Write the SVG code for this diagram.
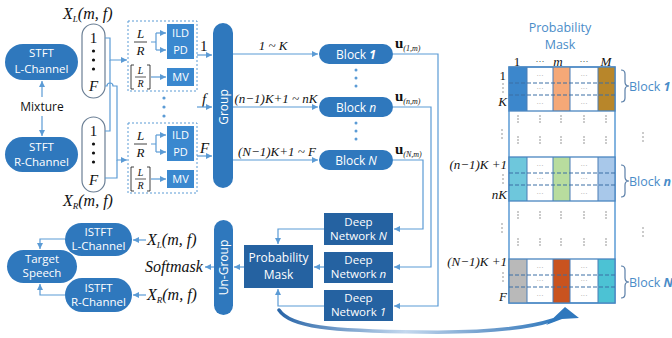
<svg xmlns="http://www.w3.org/2000/svg" width="672" height="338" viewBox="0 0 672 338">
<defs>
<style>
.pill{fill:#2f78bd}
.dk{fill:#2562a1}
.lt{fill:#3a88cf}
.wt{fill:#fff;font-family:'Open Sans','Liberation Sans',sans-serif;font-size:11.5px;text-anchor:middle}
.ws{fill:#fff;font-family:'Open Sans','Liberation Sans',sans-serif;font-size:11px;text-anchor:middle}
.ln{fill:none;stroke:#5b9bd5;stroke-width:1.2}
.m{font-family:'Liberation Serif',serif;font-style:italic;fill:#111}
.mu{font-family:'Liberation Serif',serif;fill:#111}
.bk{font-family:'Open Sans','Liberation Sans',sans-serif;font-size:12px;fill:#111;text-anchor:middle}
.bl{font-family:'Open Sans','Liberation Sans',sans-serif;font-size:12.5px;fill:#4a8cc8}
.dash{fill:none;stroke:#5b9bd5;stroke-width:1;stroke-dasharray:2 2}
.dot{fill:#5b9bd5}
.gd{fill:#888}
.hd{stroke:#3a6ea5;stroke-width:1;stroke-dasharray:4 2}
.cl{stroke:#4a7db5;stroke-width:1}
.bt{font-family:'Liberation Serif',serif;font-size:7px;fill:#888;text-anchor:middle}
.br{fill:none;stroke:#5a7fa8;stroke-width:1.2}
.s10{font-size:10px}.s12{font-size:12px}.s13{font-size:13px}.s15{font-size:15px}.s16{font-size:16px}
.sub{font-size:9px}
</style>
<marker id="ar" markerWidth="6" markerHeight="6" refX="6" refY="3" orient="auto" markerUnits="userSpaceOnUse"><path d="M0,0 L6,3 L0,6 z" fill="#5b9bd5"/></marker>
<linearGradient id="cg" x1="279" y1="0" x2="560" y2="0" gradientUnits="userSpaceOnUse">
<stop offset="0" stop-color="#2a66a8"/><stop offset="0.45" stop-color="#c4d8ee"/><stop offset="0.75" stop-color="#6d9ccc"/><stop offset="1" stop-color="#2f78bd"/>
</linearGradient>
</defs>

<g id="stft-l"><rect class="pill" x="5" y="44" width="73" height="36" rx="18"/><text class="wt" x="41.5" y="57">STFT</text><text class="wt" x="41.5" y="72.5">L-Channel</text></g>
<g id="stft-r"><rect class="pill" x="5" y="137" width="73" height="35" rx="17.5"/><text class="wt" x="41.5" y="150.5">STFT</text><text class="wt" x="41.5" y="166">R-Channel</text></g>
<g id="mixture"><text class="bk" x="42" y="111">Mixture</text></g>

<g id="xl">
<text class="m s16" x="63" y="19">X<tspan class="sub" dy="3">L</tspan><tspan dy="-3">(m, f)</tspan></text>
<rect x="82" y="24" width="23" height="74" rx="11.5" fill="#fff" stroke="#6b7f95" stroke-width="1.2"/>
<text class="mu s15" x="93.5" y="43" text-anchor="middle">1</text>
<circle cx="93.5" cy="51" r="1.6" fill="#111"/><circle cx="93.5" cy="60" r="1.6" fill="#111"/><circle cx="93.5" cy="69" r="1.6" fill="#111"/>
<text class="m s15" x="93.5" y="91" text-anchor="middle">F</text>
</g>
<g id="xr">
<rect x="82" y="117" width="23" height="75" rx="11.5" fill="#fff" stroke="#6b7f95" stroke-width="1.2"/>
<text class="mu s15" x="93.5" y="136" text-anchor="middle">1</text>
<circle cx="93.5" cy="144" r="1.6" fill="#111"/><circle cx="93.5" cy="153" r="1.6" fill="#111"/><circle cx="93.5" cy="162" r="1.6" fill="#111"/>
<text class="m s15" x="93.5" y="185" text-anchor="middle">F</text>
<text class="m s16" x="63" y="206">X<tspan class="sub" dy="3">R</tspan><tspan dy="-3">(m, f)</tspan></text>
</g>

<g id="feat-1">
<rect class="dash" x="128" y="21" width="69" height="70"/>
<text class="m s13" x="140.5" y="38" text-anchor="middle">L</text>
<line x1="134" y1="42" x2="147" y2="42" stroke="#111" stroke-width="0.8"/>
<text class="m s13" x="140.5" y="55" text-anchor="middle">R</text>
<rect class="lt" x="167" y="24" width="27" height="35"/>
<text class="ws" x="180.5" y="37">ILD</text><text class="ws" x="180.5" y="54">PD</text>
<path d="M134,65 h-3 v24 h3 M147,65 h3 v24 h-3" fill="none" stroke="#111" stroke-width="0.8"/>
<text class="m s10" x="140.5" y="74" text-anchor="middle">L</text>
<line x1="135" y1="77" x2="146" y2="77" stroke="#111" stroke-width="0.7"/>
<text class="m s10" x="140.5" y="86.5" text-anchor="middle">R</text>
<rect class="lt" x="167" y="68" width="27" height="18"/>
<text class="ws" x="180.5" y="81">MV</text>
</g>
<g id="feat-F">
<rect class="dash" x="128" y="123" width="69" height="70"/>
<text class="m s13" x="140.5" y="140" text-anchor="middle">L</text>
<line x1="134" y1="144" x2="147" y2="144" stroke="#111" stroke-width="0.8"/>
<text class="m s13" x="140.5" y="157" text-anchor="middle">R</text>
<rect class="lt" x="167" y="126" width="27" height="35"/>
<text class="ws" x="180.5" y="139">ILD</text><text class="ws" x="180.5" y="156">PD</text>
<path d="M134,167 h-3 v24 h3 M147,167 h3 v24 h-3" fill="none" stroke="#111" stroke-width="0.8"/>
<text class="m s10" x="140.5" y="176" text-anchor="middle">L</text>
<line x1="135" y1="179" x2="146" y2="179" stroke="#111" stroke-width="0.7"/>
<text class="m s10" x="140.5" y="188.5" text-anchor="middle">R</text>
<rect class="lt" x="167" y="170" width="27" height="18"/>
<text class="ws" x="180.5" y="183">MV</text>
</g>
<g id="feat-dots"><circle class="dot" cx="164" cy="98" r="1.6"/><circle class="dot" cx="164" cy="107" r="1.6"/><circle class="dot" cx="164" cy="116" r="1.6"/></g>
<g id="feat-labels">
<text class="mu s15" x="200" y="51">1</text>
<text class="m s15" x="202" y="104">f</text>
<text class="m s15" x="200" y="153">F</text>
</g>

<g id="group"><rect class="pill" x="213" y="23" width="20" height="165" rx="10"/><text class="wt s12" transform="translate(227.5,107) rotate(-90)" x="0" y="0">Group</text></g>

<g id="blk-labels">
<text class="m s13" x="273" y="50" text-anchor="middle">1 ~ K</text>
<text class="m s13" x="276" y="103" text-anchor="middle">(n−1)K+1 ~ nK</text>
<text class="m s13" x="277" y="156" text-anchor="middle">(N−1)K+1 ~ F</text>
</g>
<g id="block-1"><rect class="pill" x="319" y="44" width="74" height="20" rx="10"/><text class="wt s12" x="356" y="58.5">Block <tspan font-style="italic" font-weight="bold">1</tspan></text></g>
<g id="block-n"><rect class="pill" x="319" y="97" width="74" height="20" rx="10"/><text class="wt s12" x="356" y="111.5">Block <tspan font-style="italic">n</tspan></text></g>
<g id="block-N"><rect class="pill" x="319" y="150" width="74" height="20" rx="10"/><text class="wt s12" x="356" y="164.5">Block <tspan font-style="italic">N</tspan></text></g>
<g id="blk-dots">
<circle class="dot" cx="356" cy="70" r="1.5"/><circle class="dot" cx="356" cy="78" r="1.5"/><circle class="dot" cx="356" cy="86" r="1.5"/>
<circle class="dot" cx="356" cy="123" r="1.5"/><circle class="dot" cx="356" cy="131" r="1.5"/><circle class="dot" cx="356" cy="139" r="1.5"/>
</g>
<g id="u-labels" font-family="'Liberation Serif',serif" fill="#111">
<text x="395" y="48" font-size="15" font-weight="bold">u<tspan font-size="8" font-weight="normal" font-style="italic" dy="3">(1,m)</tspan></text>
<text x="395" y="101" font-size="15" font-weight="bold">u<tspan font-size="8" font-weight="normal" font-style="italic" dy="3">(n,m)</tspan></text>
<text x="395" y="154" font-size="15" font-weight="bold">u<tspan font-size="8" font-weight="normal" font-style="italic" dy="3">(N,m)</tspan></text>
</g>

<g id="deep-N"><rect class="dk" x="324" y="213" width="69" height="32"/><text class="wt" x="358.5" y="226">Deep</text><text class="wt" x="358.5" y="240">Network <tspan font-style="italic">N</tspan></text></g>
<g id="deep-n"><rect class="dk" x="324" y="252" width="69" height="31"/><text class="wt" x="358.5" y="264">Deep</text><text class="wt" x="358.5" y="278">Network <tspan font-style="italic">n</tspan></text></g>
<g id="deep-1"><rect class="dk" x="324" y="290" width="69" height="31"/><text class="wt" x="358.5" y="302">Deep</text><text class="wt" x="358.5" y="316">Network <tspan font-style="italic">1</tspan></text></g>
<g id="prob-mask"><rect class="dk" x="244" y="245" width="69" height="43"/><text class="wt s12" x="278.5" y="262">Probability</text><text class="wt s12" x="278.5" y="279">Mask</text></g>
<g id="ungroup"><rect class="pill" x="214" y="220" width="19" height="95" rx="9.5"/><text class="wt s12" transform="translate(228,267.5) rotate(-90)" x="0" y="0">Un-Group</text></g>

<g id="out-labels">
<text class="m s16" x="147" y="245">X<tspan class="sub" dy="3">L</tspan><tspan dy="-3">(m, f)</tspan></text>
<text class="m s16" x="145" y="272">Softmask</text>
<text class="m s16" x="147" y="300">X<tspan class="sub" dy="3">R</tspan><tspan dy="-3">(m, f)</tspan></text>
</g>
<g id="istft-l"><rect class="pill" x="65" y="223" width="67" height="33" rx="16.5"/><text class="wt" x="98.5" y="236">ISTFT</text><text class="wt" x="98.5" y="250">L-Channel</text></g>
<g id="istft-r"><rect class="pill" x="65" y="278" width="67" height="34" rx="17"/><text class="wt" x="98.5" y="292">ISTFT</text><text class="wt" x="98.5" y="306">R-Channel</text></g>
<g id="target"><rect class="pill" x="7" y="250" width="70" height="33" rx="16.5"/><text class="wt" x="42" y="263">Target</text><text class="wt" x="42" y="277">Speech</text></g>

<g id="connectors">
<path class="ln" d="M42,97 V81" marker-end="url(#ar)"/>
<path class="ln" d="M42,116 V136" marker-end="url(#ar)"/>
<path class="ln" d="M105,38 H110 V60 H127" marker-end="url(#ar)"/>
<path class="ln" d="M105,131 H110 V60"/>
<path class="ln" d="M105,86 H107 A3,3 0 0 1 113,86 H117 V160 H127" marker-end="url(#ar)"/>
<path class="ln" d="M105,178 H117 V160"/>
<path class="ln" d="M151,42 H156 M156,33 V50"/>
<path class="ln" d="M156,33 H166" marker-end="url(#ar)"/>
<path class="ln" d="M156,50 H166" marker-end="url(#ar)"/>
<path class="ln" d="M151,77 H166" marker-end="url(#ar)"/>
<path class="ln" d="M151,144 H156 M156,135 V152"/>
<path class="ln" d="M156,135 H166" marker-end="url(#ar)"/>
<path class="ln" d="M156,152 H166" marker-end="url(#ar)"/>
<path class="ln" d="M151,179 H166" marker-end="url(#ar)"/>
<path class="ln" d="M197,55 H212" marker-end="url(#ar)"/>
<path class="ln" d="M197,107 H212" marker-end="url(#ar)"/>
<path class="ln" d="M197,156 H212" marker-end="url(#ar)"/>
<path class="ln" d="M233,54 H318" marker-end="url(#ar)"/>
<path class="ln" d="M233,107 H318" marker-end="url(#ar)"/>
<path class="ln" d="M233,160 H318" marker-end="url(#ar)"/>
<path class="ln" d="M393,54 H438 V306 H394" marker-end="url(#ar)"/>
<path class="ln" d="M393,107 H431 V267 H394" marker-end="url(#ar)"/>
<path class="ln" d="M393,160 H423 V229 H394" marker-end="url(#ar)"/>
<path class="ln" d="M324,229 H278 V244" marker-end="url(#ar)"/>
<path class="ln" d="M324,267 H314" marker-end="url(#ar)"/>
<path class="ln" d="M324,306 H278 V289" marker-end="url(#ar)"/>
<path class="ln" d="M244,267 H234" marker-end="url(#ar)"/>
<path class="ln" d="M214,267 H205" marker-end="url(#ar)"/>
<path class="ln" d="M146,240 H133" marker-end="url(#ar)"/>
<path class="ln" d="M146,295 H133" marker-end="url(#ar)"/>
<path class="ln" d="M65,239 H40 V249" marker-end="url(#ar)"/>
<path class="ln" d="M65,295 H40 V284" marker-end="url(#ar)"/>
<path d="M279,310 C290,327 330,331 420,332 C480,333 525,329 553,320" fill="none" stroke="url(#cg)" stroke-width="3.5" stroke-linecap="round"/>
<path d="M565,307 L579,318 L562,319 L546,325 Z" fill="#2f78bd"/>
</g>

<g id="mask-title"><text class="bl" x="560" y="32" text-anchor="middle">Probability</text><text class="bl" x="560" y="49" text-anchor="middle">Mask</text></g>
<g id="mask-cols">
<text class="mu s13" x="517" y="66" text-anchor="middle">1</text>
<text class="mu" x="540" y="64" text-anchor="middle" style="font-size:9px">···</text>
<text class="m s13" x="558" y="66" text-anchor="middle">m</text>
<text class="mu" x="584" y="64" text-anchor="middle" style="font-size:9px">···</text>
<text class="m s13" x="606" y="66" text-anchor="middle">M</text>
</g>
<g id="matrix">
<rect x="509" y="67" width="106" height="236" fill="#fff" stroke="#5b9bd5" stroke-width="1.5"/>
<rect x="509" y="67" width="18" height="44" fill="#3c87cc"/>
<rect x="553" y="67" width="17" height="44" fill="#f5a877"/>
<rect x="598" y="67" width="17" height="44" fill="#b8862a"/>
<rect x="509" y="157" width="18" height="44" fill="#6ec7dc"/>
<rect x="553" y="157" width="17" height="44" fill="#b8dc9e"/>
<rect x="598" y="157" width="17" height="44" fill="#a8c8ea"/>
<rect x="509" y="259" width="18" height="44" fill="#b9b9b9"/>
<rect x="553" y="259" width="17" height="44" fill="#c9531f"/>
<rect x="598" y="259" width="17" height="44" fill="#4cc2d4"/>
<g class="cl">
<line x1="527" y1="67" x2="527" y2="111"/><line x1="553" y1="67" x2="553" y2="111"/><line x1="570" y1="67" x2="570" y2="111"/><line x1="598" y1="67" x2="598" y2="111"/>
<line x1="527" y1="157" x2="527" y2="201"/><line x1="553" y1="157" x2="553" y2="201"/><line x1="570" y1="157" x2="570" y2="201"/><line x1="598" y1="157" x2="598" y2="201"/>
<line x1="527" y1="259" x2="527" y2="303"/><line x1="553" y1="259" x2="553" y2="303"/><line x1="570" y1="259" x2="570" y2="303"/><line x1="598" y1="259" x2="598" y2="303"/>
</g>
<rect x="509" y="67" width="106" height="44" fill="none" stroke="#4a86c0" stroke-width="1.3"/>
<rect x="509" y="157" width="106" height="44" fill="none" stroke="#4a86c0" stroke-width="1.3"/>
<rect x="509" y="259" width="106" height="44" fill="none" stroke="#4a86c0" stroke-width="1.3"/>
<g class="hd">
<line x1="509" y1="83" x2="615" y2="83"/><line x1="509" y1="95" x2="615" y2="95"/>
<line x1="509" y1="173" x2="615" y2="173"/><line x1="509" y1="185" x2="615" y2="185"/>
<line x1="509" y1="275" x2="615" y2="275"/><line x1="509" y1="287" x2="615" y2="287"/>
</g>
<g class="bt">
<text x="540" y="78">···</text><text x="540" y="91">···</text><text x="540" y="106">···</text>
<text x="584" y="78">···</text><text x="584" y="91">···</text><text x="584" y="106">···</text>
<text x="540" y="168">···</text><text x="540" y="181">···</text><text x="540" y="196">···</text>
<text x="584" y="168">···</text><text x="584" y="181">···</text><text x="584" y="196">···</text>
<text x="540" y="270">···</text><text x="540" y="283">···</text><text x="540" y="298">···</text>
<text x="584" y="270">···</text><text x="584" y="283">···</text><text x="584" y="298">···</text>
</g>
<g class="gd">
<circle cx="518" cy="116" r="0.8"/><circle cx="518" cy="119" r="0.8"/><circle cx="518" cy="122" r="0.8"/>
<circle cx="540" cy="116" r="0.8"/><circle cx="540" cy="119" r="0.8"/><circle cx="540" cy="122" r="0.8"/>
<circle cx="561" cy="116" r="0.8"/><circle cx="561" cy="119" r="0.8"/><circle cx="561" cy="122" r="0.8"/>
<circle cx="584" cy="116" r="0.8"/><circle cx="584" cy="119" r="0.8"/><circle cx="584" cy="122" r="0.8"/>
<circle cx="606" cy="116" r="0.8"/><circle cx="606" cy="119" r="0.8"/><circle cx="606" cy="122" r="0.8"/>
<circle cx="518" cy="137" r="0.8"/><circle cx="518" cy="140" r="0.8"/><circle cx="518" cy="143" r="0.8"/>
<circle cx="540" cy="137" r="0.8"/><circle cx="540" cy="140" r="0.8"/><circle cx="540" cy="143" r="0.8"/>
<circle cx="561" cy="137" r="0.8"/><circle cx="561" cy="140" r="0.8"/><circle cx="561" cy="143" r="0.8"/>
<circle cx="584" cy="137" r="0.8"/><circle cx="584" cy="140" r="0.8"/><circle cx="584" cy="143" r="0.8"/>
<circle cx="606" cy="137" r="0.8"/><circle cx="606" cy="140" r="0.8"/><circle cx="606" cy="143" r="0.8"/>
<circle cx="518" cy="212" r="0.8"/><circle cx="518" cy="215" r="0.8"/><circle cx="518" cy="218" r="0.8"/>
<circle cx="540" cy="212" r="0.8"/><circle cx="540" cy="215" r="0.8"/><circle cx="540" cy="218" r="0.8"/>
<circle cx="561" cy="212" r="0.8"/><circle cx="561" cy="215" r="0.8"/><circle cx="561" cy="218" r="0.8"/>
<circle cx="584" cy="212" r="0.8"/><circle cx="584" cy="215" r="0.8"/><circle cx="584" cy="218" r="0.8"/>
<circle cx="606" cy="212" r="0.8"/><circle cx="606" cy="215" r="0.8"/><circle cx="606" cy="218" r="0.8"/>
<circle cx="518" cy="239" r="0.8"/><circle cx="518" cy="242" r="0.8"/><circle cx="518" cy="245" r="0.8"/>
<circle cx="540" cy="239" r="0.8"/><circle cx="540" cy="242" r="0.8"/><circle cx="540" cy="245" r="0.8"/>
<circle cx="561" cy="239" r="0.8"/><circle cx="561" cy="242" r="0.8"/><circle cx="561" cy="245" r="0.8"/>
<circle cx="584" cy="239" r="0.8"/><circle cx="584" cy="242" r="0.8"/><circle cx="584" cy="245" r="0.8"/>
<circle cx="606" cy="239" r="0.8"/><circle cx="606" cy="242" r="0.8"/><circle cx="606" cy="245" r="0.8"/>
<circle cx="503" cy="84" r="0.8"/><circle cx="503" cy="88" r="0.8"/><circle cx="503" cy="92" r="0.8"/>
<circle cx="502" cy="130" r="0.8"/><circle cx="502" cy="134" r="0.8"/><circle cx="502" cy="138" r="0.8"/>
<circle cx="503" cy="175" r="0.8"/><circle cx="503" cy="179" r="0.8"/><circle cx="503" cy="183" r="0.8"/>
<circle cx="502" cy="224" r="0.8"/><circle cx="502" cy="228" r="0.8"/><circle cx="502" cy="232" r="0.8"/>
<circle cx="503" cy="273" r="0.8"/><circle cx="503" cy="277" r="0.8"/><circle cx="503" cy="281" r="0.8"/>
<circle cx="643" cy="133" r="0.8"/><circle cx="643" cy="137" r="0.8"/><circle cx="643" cy="141" r="0.8"/>
<circle cx="643" cy="228" r="0.8"/><circle cx="643" cy="232" r="0.8"/><circle cx="643" cy="236" r="0.8"/>
</g>
</g>
<g id="row-labels">
<text class="mu s13" x="506" y="80" text-anchor="end">1</text>
<text class="m s13" x="507" y="106" text-anchor="end">K</text>
<text class="m s13" x="507" y="169" text-anchor="end">(n−1)K +1</text>
<text class="m s13" x="507" y="199" text-anchor="end">nK</text>
<text class="m s13" x="507" y="266" text-anchor="end">(N−1)K +1</text>
<text class="m s13" x="507" y="301" text-anchor="end">F</text>
</g>
<g id="brace-1"><path class="br" d="M621,70 q4,0 4,4 v8 q0,4 4,4 q-4,0 -4,4 v8 q0,4 -4,4"/><text class="bl" x="629" y="91">Block <tspan font-weight="bold" font-style="italic">1</tspan></text></g>
<g id="brace-n"><path class="br" d="M621,165 q4,0 4,4 v8 q0,4 4,4 q-4,0 -4,4 v8 q0,4 -4,4"/><text class="bl" x="629" y="186">Block <tspan font-weight="bold" font-style="italic">n</tspan></text></g>
<g id="brace-N"><path class="br" d="M621,266 q4,0 4,4 v8 q0,4 4,4 q-4,0 -4,4 v8 q0,4 -4,4"/><text class="bl" x="629" y="287">Block <tspan font-weight="bold" font-style="italic">N</tspan></text></g>
</svg>
